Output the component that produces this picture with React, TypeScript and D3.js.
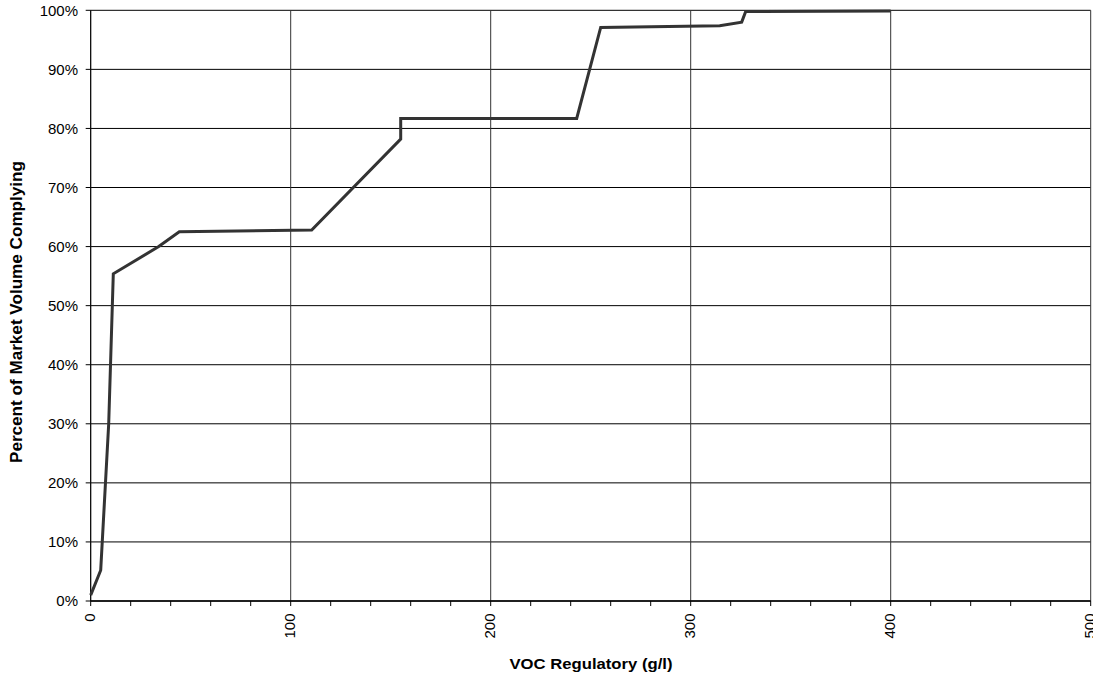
import React from "react";
import * as d3 from "d3";

const vocValues = [0, 5, 9, 11.3, 34, 44.3, 110.5, 155, 155, 243, 255, 314.5, 325.5, 327.5, 400];
const percentValues = [1, 5.2, 30, 55.4, 60, 62.5, 62.8, 78.2, 81.7, 81.7, 97.1, 97.4, 98, 99.8, 99.9];
const xTicks = [0, 100, 200, 300, 400, 500];
const xMinorTicks = d3.range(0, 501, 20);
const yTicks = [0, 10, 20, 30, 40, 50, 60, 70, 80, 90, 100];

const W = 1093;
const H = 679;
const left = 90.7;
const right = 1090.7;
const top = 10.3;
const bottom = 601;
const font = "'Liberation Sans', Arial, sans-serif";

export default function App() {
  const x = d3.scaleLinear().domain([0, 500]).range([left, right]);
  const y = d3.scaleLinear().domain([0, 100]).range([bottom, top]);
  const pts = vocValues.map((v, i) => [v, percentValues[i]] as [number, number]);
  const line = d3
    .line<[number, number]>()
    .x((d) => x(d[0]))
    .y((d) => y(d[1]));

  return (
    <svg
      width={W}
      height={H}
      style={{ position: "absolute", left: 0, top: 0, background: "#fff" }}
      fontFamily={font}
    >
      {yTicks.map((t) => (
        <line key={"gy" + t} x1={left - 5} x2={right} y1={y(t)} y2={y(t)} stroke="#000" strokeWidth={1} />
      ))}
      {xTicks.map((t) => (
        <line key={"gx" + t} x1={x(t)} x2={x(t)} y1={top} y2={bottom} stroke="#333" strokeWidth={1} />
      ))}
      <line x1={left} x2={left} y1={top} y2={bottom} stroke="#000" strokeWidth={1} />
      <line x1={left} x2={right} y1={bottom} y2={bottom} stroke="#000" strokeWidth={1.5} />
      {xMinorTicks.map((t) => (
        <line key={"mt" + t} x1={x(t)} x2={x(t)} y1={bottom} y2={bottom + 5} stroke="#000" strokeWidth={1} />
      ))}
      {yTicks.map((t) => (
        <text key={"yl" + t} x={78} y={y(t)} dy="0.35em" textAnchor="end" fontSize={15} fill="#000">
          {t}%
        </text>
      ))}
      {xTicks.map((t) => (
        <text
          key={"xl" + t}
          transform={`translate(${x(t) - 1},613.5) rotate(-90)`}
          dy="0.35em"
          textAnchor="end"
          fontSize={15}
          fill="#000"
        >
          {t}
        </text>
      ))}
      <path d={line(pts) || ""} fill="none" stroke="#333" strokeWidth={3} strokeLinejoin="miter" />
      <text
        x={591}
        y={669}
        textAnchor="middle"
        fontSize={15.5}
        fontWeight="bold"
        fill="#000"
        textLength={163}
        lengthAdjust="spacingAndGlyphs"
      >
        VOC Regulatory (g/l)
      </text>
      <text
        transform={`translate(21.5,312) rotate(-90)`}
        textAnchor="middle"
        fontSize={16}
        fontWeight="bold"
        fill="#000"
        textLength={302}
        lengthAdjust="spacingAndGlyphs"
      >
        Percent of Market Volume Complying
      </text>
    </svg>
  );
}
